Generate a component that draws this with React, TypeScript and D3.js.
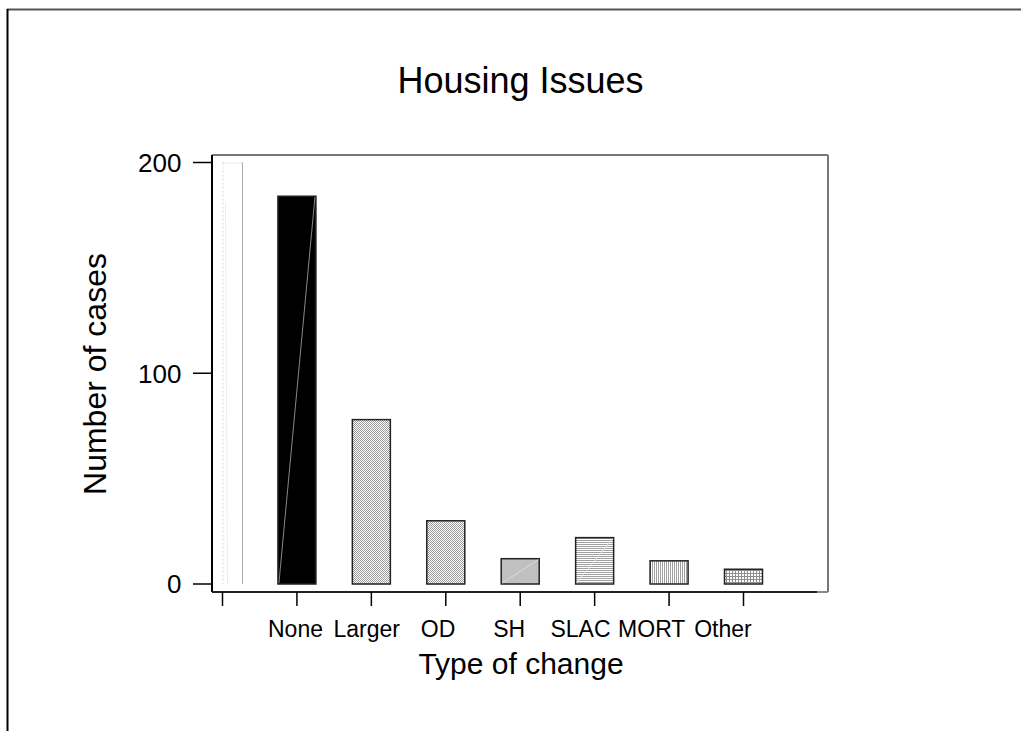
import React from "react";
import * as d3 from "d3";

const categories: string[] = ["", "None", "Larger", "OD", "SH", "SLAC", "MORT", "Other"];
const labels: string[] = ["None", "Larger", "OD", "SH", "SLAC", "MORT", "Other"];
const counts: number[] = [200, 184, 78, 30, 12, 22, 11, 7];
const fills: string[] = ["blank", "black", "checker", "checker", "gray", "hlines", "vlines", "grid"];
const yTicks: number[] = [0, 100, 200];

const W = 1021;
const H = 731;
const frame = { left: 212, top: 155, right: 828, bottom: 592 };

export default function App() {
  const x = d3.scalePoint<string>().domain(categories).range([222.5, 743.5]);
  const xl = d3.scalePoint<string>().domain(labels).range([295.5, 723]);
  const y = d3.scaleLinear().domain([0, 200]).range([584, 162.5]);
  const bw = 38;
  const font = "Liberation Sans, Arial, Helvetica, sans-serif";

  const fillFor = (f: string) => {
    switch (f) {
      case "black": return "#000";
      case "checker": return "url(#checker)";
      case "gray": return "#c0c0c0";
      case "hlines": return "url(#hlines)";
      case "vlines": return "url(#vlines)";
      case "grid": return "url(#grid)";
      default: return "#fff";
    }
  };

  return (
    <svg width={W} height={H} style={{ position: "absolute", left: 0, top: 0, background: "#fff" }} fontFamily={font}>
      <defs>
        <pattern id="checker" width={2} height={2} patternUnits="userSpaceOnUse">
          <rect width={2} height={2} fill="#fff" />
          <rect x={0} y={0} width={1} height={1} fill="#9a9a9a" />
          <rect x={1} y={1} width={1} height={1} fill="#9a9a9a" />
        </pattern>
        <pattern id="hlines" width={2} height={2} patternUnits="userSpaceOnUse">
          <rect width={2} height={2} fill="#fff" />
          <rect x={0} y={0} width={2} height={1} fill="#a0a0a0" />
        </pattern>
        <pattern id="vlines" width={2} height={2} patternUnits="userSpaceOnUse">
          <rect width={2} height={2} fill="#fff" />
          <rect x={0} y={0} width={1} height={2} fill="#a0a0a0" />
        </pattern>
        <pattern id="grid" width={3} height={3} patternUnits="userSpaceOnUse">
          <rect width={3} height={3} fill="#fff" />
          <rect x={0} y={0} width={3} height={1} fill="#909090" />
          <rect x={0} y={0} width={1} height={3} fill="#909090" />
        </pattern>
      </defs>

      {/* page frame */}
      <line x1={7} y1={9.5} x2={W} y2={9.5} stroke="#555" strokeWidth={2} />
      <line x1={7.5} y1={9} x2={7.5} y2={H} stroke="#000" strokeWidth={2} />

      {/* title */}
      <text x={520.5} y={93} textAnchor="middle" fontSize={36} fill="#000">Housing Issues</text>

      {/* plot frame */}
      <line x1={frame.left} y1={frame.top} x2={frame.right} y2={frame.top} stroke="#777" strokeWidth={2} />
      <line x1={frame.right} y1={frame.top} x2={frame.right} y2={frame.bottom} stroke="#777" strokeWidth={2} />
      <line x1={frame.left} y1={frame.top} x2={frame.left} y2={frame.bottom} stroke="#000" strokeWidth={2} />
      <line x1={frame.left} y1={frame.bottom} x2={frame.right - 11} y2={frame.bottom} stroke="#222" strokeWidth={2} />
      <line x1={frame.right - 11} y1={frame.bottom} x2={frame.right} y2={frame.bottom} stroke="#888" strokeWidth={2} />

      {/* y ticks */}
      {yTicks.map((t) => (
        <g key={t}>
          <line x1={193} x2={frame.left} y1={y(t)} y2={y(t)} stroke="#000" strokeWidth={1.5} />
          <text x={181.5} y={y(t)} dy="0.36em" textAnchor="end" fontSize={26}>{t}</text>
        </g>
      ))}

      {/* x ticks */}
      {categories.map((c) => (
        <line key={"xt" + c} x1={x(c)!} x2={x(c)!} y1={frame.bottom} y2={606} stroke="#000" strokeWidth={1.5} />
      ))}
      {labels.map((c) => (
        <text key={"xl" + c} x={xl(c)!} y={637} textAnchor="middle" fontSize={23}>{c}</text>
      ))}

      {/* bars */}
      {categories.map((c, i) => {
        const cx = x(c)!;
        const top = y(counts[i]);
        const base = y(0);
        if (fills[i] === "blank") {
          return (
            <g key={"b" + i}>
              <line x1={cx + 0.5} x2={cx + 0.5} y1={top} y2={base} stroke="#ddd" strokeWidth={1} strokeDasharray="2,2" />
              <line x1={cx} x2={cx + 20} y1={top + 0.5} y2={top + 0.5} stroke="#ccc" strokeWidth={1} strokeDasharray="1,1" />
              <line x1={cx + 20} x2={cx + 20} y1={top} y2={base} stroke="#aaa" strokeWidth={1} />
              <line x1={cx + 3} x2={cx + 5} y1={top + 40} y2={base} stroke="#eee" strokeWidth={1} />
            </g>
          );
        }
        const diag = fills[i] === "black" ? "#888" : fills[i] === "gray" ? "#ddd" : fills[i] === "hlines" ? "#e8e8e8" : null;
        return (
          <g key={"b" + i}>
            <rect x={cx - bw / 2} y={top} width={bw} height={base - top} fill={fillFor(fills[i])} stroke="#222" strokeWidth={1.5} />
            {diag && (
              <line x1={cx - bw / 2 + 1} y1={base - 1} x2={cx + bw / 2 - 1} y2={top + 1} stroke={diag} strokeWidth={1} />
            )}
          </g>
        );
      })}

      {/* axis titles */}
      <text x={521} y={674} textAnchor="middle" fontSize={30}>Type of change</text>
      <text transform={`translate(106, 374) rotate(-90)`} textAnchor="middle" fontSize={32}>Number of cases</text>
    </svg>
  );
}
